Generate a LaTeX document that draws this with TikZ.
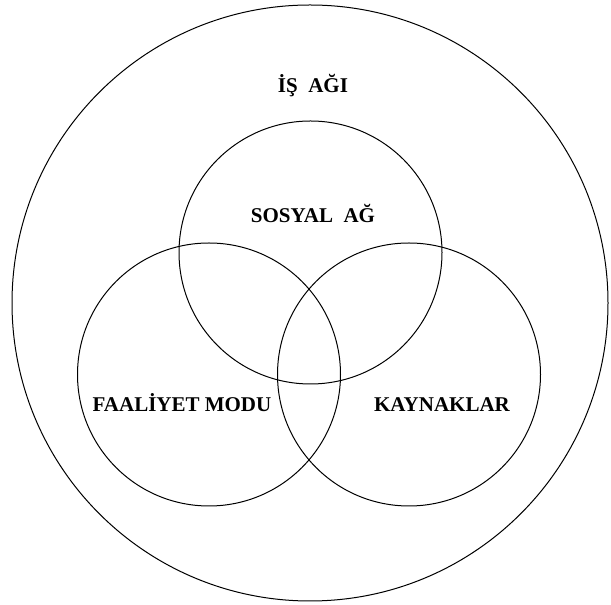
\documentclass[tikz,border=0pt]{standalone}
\usepackage{fontspec}
\setmainfont{Liberation Serif}
\usepackage{tikz}
\usetikzlibrary{positioning}

\begin{document}
\begin{tikzpicture}[
    x=1pt, y=1pt,
    every node/.style={font=\fontsize{21}{25}\selectfont\bfseries},
    ring/.style={draw, circle, line width=1pt, inner sep=0pt, outer sep=0pt},
    venn/.style={ring, minimum size=263pt},
    label/.style={anchor=base, inner sep=0pt},
]
\useasboundingbox (0,0) rectangle (611,605);

% ── Outer network ──
\node[ring, minimum size=596pt] (isagi) at (310,302) {};

% ── Three overlapping sets ──
\node[venn] (sosyal) at (310.5,352.5) {};
\node[venn] (faaliyet) at (209,230.5) {};
\node[venn] (kaynak) at (409,230.5) {};

% ── Labels ──
\node[label] (isagilbl) at (313,512) {İŞ\ \ AĞI};
\node[label] (sosyallbl) at (313,382) {SOSYAL\ \ AĞ};
\node[label] (faaliyetlbl) at (182,193) {FAALİYET MODU};
\node[label] (kaynaklbl) at (442,193) {KAYNAKLAR};

\end{tikzpicture}
\end{document}
